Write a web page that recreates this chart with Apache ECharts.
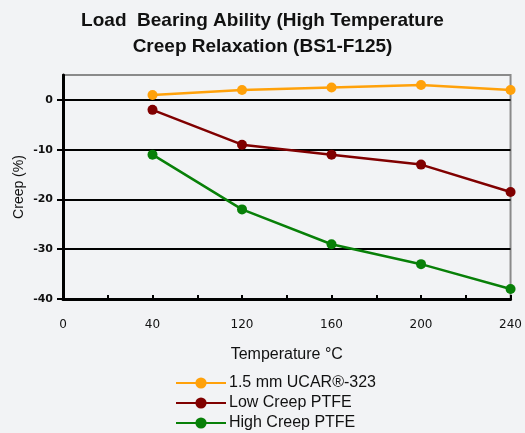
<!DOCTYPE html>
<html><head><meta charset="utf-8">
<script src="https://cdn.jsdelivr.net/npm/echarts@6/dist/echarts.min.js"></script>
<style>html,body{margin:0;padding:0;background:#f2f3f5}#c{width:525px;height:433px}</style>
</head><body><div id="c"></div>
<script>
const xLabels = ['0', '40', '120', '160', '200', '240'];
const yTicks = [-40, -30, -20, -10, 0];
const seriesNames = ['1.5 mm UCAR®-323', 'Low Creep PTFE', 'High Creep PTFE'];
const ucar = [1, 2, 2.5, 3, 2];
const lowCreep = [-2, -9, -11, -13, -18.5];
const highCreep = [-11, -22, -29, -33, -38];
const colors = ['#FFA10A', '#800000', '#088008'];

const toPts = arr => arr.map((v, i) => [i + 1, v]);
const chart = echarts.init(document.getElementById('c'));
chart.setOption({
  backgroundColor: '#f2f3f5',
  animation: false,
  title: {
    text: 'Load  Bearing Ability (High Temperature\nCreep Relaxation (BS1-F125)',
    left: 'center', top: 3,
    textStyle: { fontFamily: 'Liberation Sans', fontSize: 19, fontWeight: 'bold', color: '#111', lineHeight: 26 }
  },
  grid: { left: 63, right: 12, top: 75, bottom: 134, show: true, borderColor: '#8a8a8a', borderWidth: 2, backgroundColor: 'transparent' },
  legend: {
    orient: 'vertical', left: 175, top: 375, padding: 0, itemWidth: 50, itemHeight: 14, itemGap: 4,
    data: seriesNames,
    textStyle: { fontFamily: 'Liberation Sans', fontSize: 16, color: '#111', padding: [0, 0, 0, -2] }
  },
  xAxis: {
    type: 'value', min: 0, max: 5, interval: 1,
    name: 'Temperature °C', nameLocation: 'middle', nameGap: 48,
    nameTextStyle: { fontFamily: 'Liberation Sans', fontSize: 16, color: '#111' },
    axisLine: { show: true, onZero: false, lineStyle: { color: '#000', width: 3 } },
    axisTick: { show: true, inside: true, length: 4, lineStyle: { color: '#000', width: 2 } },
    minorTick: { show: true, splitNumber: 2, length: 4, lineStyle: { color: '#000', width: 2 } },
    axisLabel: { formatter: v => xLabels[v] ?? '', fontFamily: 'DejaVu Sans', fontSize: 12, color: '#111', margin: 20 },
    splitLine: { show: false }
  },
  yAxis: {
    type: 'value', min: -40, max: 5, interval: 10,
    name: 'Creep (%)', nameLocation: 'middle', nameGap: 37, nameMoveOverlap: false,
    nameTextStyle: { fontFamily: 'Liberation Sans', fontSize: 14, color: '#111' },
    axisLine: { show: true, lineStyle: { color: '#000', width: 3 } },
    axisTick: { show: true, inside: false, length: 6, customValues: yTicks, lineStyle: { color: '#000', width: 2 } },
    axisLabel: { customValues: yTicks, fontFamily: 'DejaVu Sans', fontSize: 11, fontWeight: 'bold', color: '#111', margin: 10 },
    splitLine: { show: true, lineStyle: { color: ['#000', '#000', '#000', '#000', '#000', '#8a8a8a'], width: 2 } }
  },
  series: [
    { name: seriesNames[0], type: 'line', data: toPts(ucar) },
    { name: seriesNames[1], type: 'line', data: toPts(lowCreep) },
    { name: seriesNames[2], type: 'line', data: toPts(highCreep) }
  ].map((s, i) => Object.assign(s, {
    symbol: 'circle', symbolSize: 10, color: colors[i],
    lineStyle: { width: 2.5, color: colors[i] },
    itemStyle: { color: colors[i] }
  }))
});
</script></body></html>
